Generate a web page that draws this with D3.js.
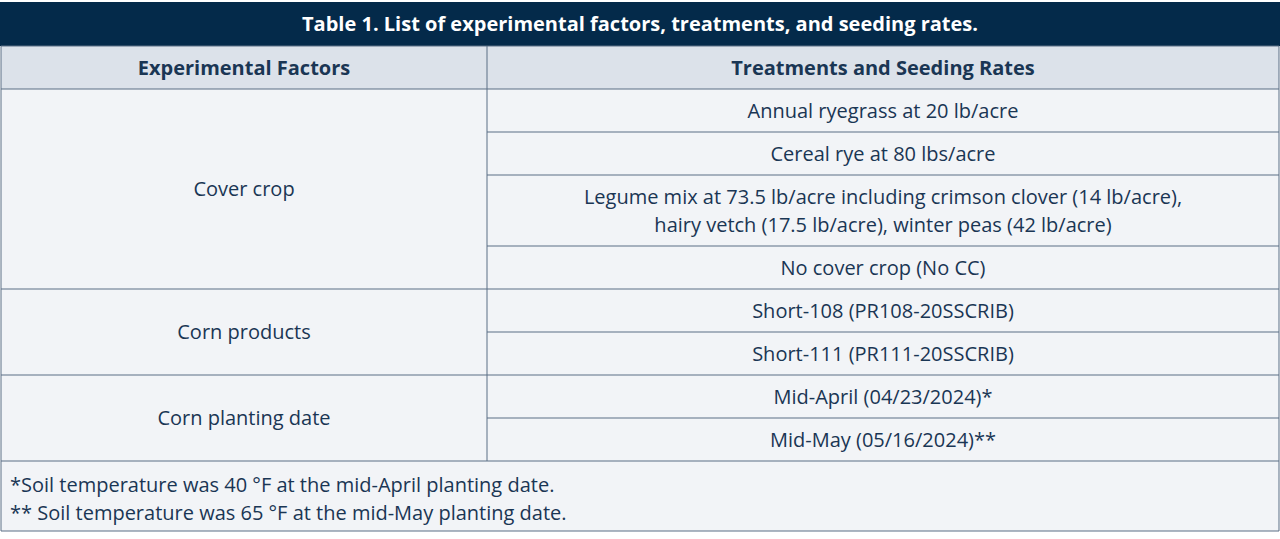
<!DOCTYPE html>
<html><head><meta charset="utf-8">
<script src="https://cdn.jsdelivr.net/npm/d3@7"></script>
<style>body{margin:0;background:#fff;font-family:"Open Sans",sans-serif}</style>
</head><body><svg id="chart" width="1280" height="539"></svg>
<script>
// table content
let title = "Table 1. List of experimental factors, treatments, and seeding rates."
let headers = ["Experimental Factors", "Treatments and Seeding Rates"]
let factors = ["Cover crop", "Corn products", "Corn planting date"]
let treatments = [
  ["Annual ryegrass at 20 lb/acre"],
  ["Cereal rye at 80 lbs/acre"],
  ["Legume mix at 73.5 lb/acre including crimson clover (14 lb/acre),", "hairy vetch (17.5 lb/acre), winter peas (42 lb/acre)"],
  ["No cover crop (No CC)"],
  ["Short-108 (PR108-20SSCRIB)"],
  ["Short-111 (PR111-20SSCRIB)"],
  ["Mid-April (04/23/2024)*"],
  ["Mid-May (05/16/2024)**"]
]
let factorOf = [0, 0, 0, 0, 1, 1, 2, 2]
let notes = ["*Soil temperature was 40 °F at the mid-April planting date.",
             "** Soil temperature was 65 °F at the mid-May planting date."]

let W = 1280, left = 1, right = 1279, split = 487
let navy = "#042a4a", line = "#5b6f85", text = "#1a3654"
let svg = d3.select("#chart")

// row heights follow line counts
let rowH = treatments.map(t => 43 + (t.length - 1) * 28)
let y0 = 89
let rowY = []
rowH.reduce((acc, h, i) => { rowY[i] = acc; return acc + h }, y0)
let bodyEnd = rowY[rowY.length - 1] + rowH[rowH.length - 1]

svg.append("rect").attr("x", 0).attr("y", 2).attr("width", W).attr("height", 44).attr("fill", navy)
svg.append("text").attr("x", W / 2).attr("y", 31).attr("text-anchor", "middle")
  .attr("fill", "#fff").attr("font-size", 20).attr("font-weight", 700).text(title)

svg.append("rect").attr("x", left).attr("y", 46).attr("width", right - left).attr("height", 43).attr("fill", "#dce2ea")
svg.append("rect").attr("x", left).attr("y", y0).attr("width", right - left).attr("height", 531 - y0).attr("fill", "#f2f4f7")

let colMid = [(left + split) / 2, (split + right) / 2]
svg.selectAll(".hdr").data(headers).enter().append("text")
  .attr("x", (d, i) => colMid[i]).attr("y", 75).attr("text-anchor", "middle")
  .attr("fill", text).attr("font-size", 20).attr("font-weight", 700).text(d => d)

// treatment rows
treatments.forEach((t, i) => {
  let cy = rowY[i] + rowH[i] / 2
  t.forEach((s, j) => {
    svg.append("text").attr("x", colMid[1]).attr("y", cy + (j - (t.length - 1) / 2) * 28 + 7)
      .attr("text-anchor", "middle").attr("fill", text).attr("font-size", 20).text(s)
  })
  if (i > 0) {
    let newGroup = factorOf[i] !== factorOf[i - 1]
    svg.append("line").attr("x1", newGroup ? left : split).attr("x2", right)
      .attr("y1", rowY[i]).attr("y2", rowY[i]).attr("stroke", line)
  }
})

// factor cells
factors.forEach((f, k) => {
  let idx = d3.range(treatments.length).filter(i => factorOf[i] === k)
  let top = rowY[idx[0]], bot = rowY[idx[idx.length - 1]] + rowH[idx[idx.length - 1]]
  svg.append("text").attr("x", colMid[0]).attr("y", (top + bot) / 2 + 7).attr("text-anchor", "middle")
    .attr("fill", text).attr("font-size", 20).text(f)
})

notes.forEach((n, i) => {
  svg.append("text").attr("x", 10).attr("y", 492 + i * 28).attr("fill", text).attr("font-size", 20).text(n)
})

// grid lines
let hl = [46, y0, bodyEnd, 531]
svg.selectAll(".hl").data(hl).enter().append("line")
  .attr("x1", left).attr("x2", right).attr("y1", d => d).attr("y2", d => d).attr("stroke", line)
svg.append("line").attr("x1", split).attr("x2", split).attr("y1", 46).attr("y2", bodyEnd).attr("stroke", line)
svg.selectAll(".vl").data([left, right]).enter().append("line")
  .attr("x1", d => d).attr("x2", d => d).attr("y1", 46).attr("y2", 531).attr("stroke", line)
</script></body></html>
